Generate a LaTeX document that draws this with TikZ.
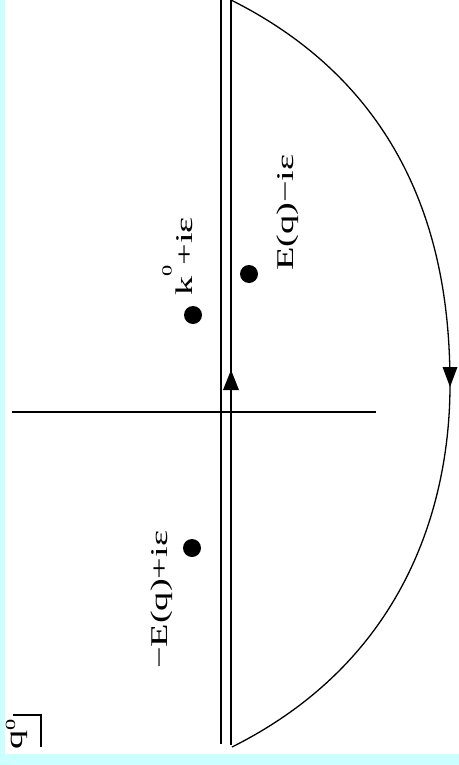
\documentclass[tikz,border=0pt]{standalone}
\usepackage{fontspec}
\setmainfont{Liberation Serif}
\usepackage{tikz}
\definecolor{bgCyan}{HTML}{CCFFFF}
\newcommand{\supz}[1]{\raisebox{#1}{\fontsize{7}{7}\selectfont 0}}

\begin{document}
\begin{tikzpicture}[x=0.5pt, y=-0.5pt, line width=0.65pt,
    polept/.style={circle, fill, inner sep=0pt, minimum size=9pt},
    lbl/.style={rotate=90, xscale=1.6, anchor=base west, inner sep=0pt,
        font=\fontsize{12}{14}\selectfont}]
    \useasboundingbox (0,0) rectangle (459,765);
    \fill[bgCyan] (0,0) rectangle (459,765);
    \fill[white] (5,0) rectangle (459,754);
    % axes
    \draw (221,0) -- (221,744);
    \draw (231,0) -- (231,745);
    \draw (12,412) -- (376,412);
    % closing arc
    \draw (231,0) .. controls (429,99) and (450,279) .. (450,385)
        .. controls (450,485) and (418,654) .. (232,747);
    % direction of the contour
    \fill (231,370) -- (223,390) -- (239,390) -- cycle;
    \fill (450,387) -- (442.5,367) -- (457.5,367) -- cycle;
    % poles
    \node[polept] (poleK) at (193,315) {};
    \node[polept] (poleEm) at (249,274) {};
    \node[polept] (poleEp) at (192,548) {};
    \node[lbl] (lblK) at (192,297) {k\supz{0.85em}+iε};
    \node[lbl] (lblEm) at (293,272) {E(q)−iε};
    \node[lbl] (lblEp) at (167,670) {−E(q)+iε};
    % plane label
    \node[lbl] (lblQ) at (23,751) {q\supz{0.33em}};
    \draw (13,715) -- (41,715) -- (41,747);
\end{tikzpicture}
\end{document}
